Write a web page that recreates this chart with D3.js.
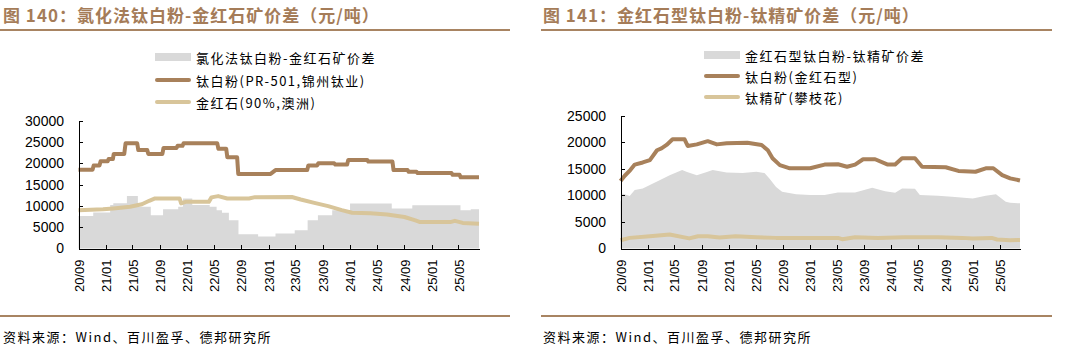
<!DOCTYPE html>
<html lang="zh-CN">
<head>
<meta charset="utf-8">
<title>钛白粉价差</title>
<script src="https://cdn.jsdelivr.net/npm/d3@7"></script>
<style>
  html, body { margin: 0; padding: 0; background: #fff; }
  svg { display: block; }
  .title { font-family: "Noto Sans CJK SC", sans-serif; font-weight: 700; font-size: 17px; fill: #a57c58; letter-spacing: 1px; }
  .legend-text, .source { font-family: "Noto Sans CJK SC", sans-serif; font-size: 13px; fill: #000; letter-spacing: 1.5px; }
  .axis text { font-family: "Liberation Sans", Arial, sans-serif; fill: #000; }
  .axis path, .axis line { stroke: #000; shape-rendering: crispEdges; }
</style>
</head>
<body>
<div id="chart"></div>
<script>
// ---- data (元/吨) ----
const titles = ["图 140：氯化法钛白粉-金红石矿价差（元/吨）", "图 141：金红石型钛白粉-钛精矿价差（元/吨）"];
const leftLegend = ["氯化法钛白粉-金红石矿价差", "钛白粉(PR-501,锦州钛业)", "金红石(90%,澳洲)"];
const rightLegend = ["金红石型钛白粉-钛精矿价差", "钛白粉(金红石型)", "钛精矿(攀枝花)"];
const sourceText = "资料来源：Wind、百川盈孚、德邦研究所";
const leftYTicks = [0, 5000, 10000, 15000, 20000, 25000, 30000];
const rightYTicks = [0, 5000, 10000, 15000, 20000, 25000];

// 氯化法钛白粉-金红石矿价差 (held until next date)
const leftSpread = [
  ["2020-09-01", 7600], ["2020-11-06", 8460], ["2021-01-21", 10200], ["2021-02-04", 10600],
  ["2021-04-06", 12300], ["2021-05-25", 9800], ["2021-07-22", 7800], ["2021-09-15", 9240],
  ["2021-11-22", 9800], ["2021-12-13", 11750], ["2022-01-24", 10200], ["2022-04-12", 9800],
  ["2022-05-13", 9000], ["2022-06-06", 8370], ["2022-07-07", 6650], ["2022-08-19", 3360],
  ["2022-11-15", 2800], ["2023-02-01", 3530], ["2023-04-28", 4300], ["2023-06-25", 6650],
  ["2023-08-10", 7830], ["2023-10-13", 9000], ["2024-01-01", 10580], ["2024-07-06", 9400],
  ["2024-10-06", 10180], ["2025-05-10", 9000], ["2025-06-25", 9200], ["2025-08-01", 9200]
];
// 钛白粉(PR-501,锦州钛业)
const leftTio2 = [
  ["2020-09-01", 18500], ["2020-11-03", 18500], ["2020-11-08", 19500], ["2020-12-04", 19500],
  ["2020-12-09", 20500], ["2021-01-10", 20500], ["2021-01-14", 21000], ["2021-02-02", 21000],
  ["2021-02-06", 22200], ["2021-03-25", 22200], ["2021-03-31", 24700], ["2021-05-22", 24700],
  ["2021-05-27", 23100], ["2021-07-06", 23100], ["2021-07-11", 22200], ["2021-09-12", 22200],
  ["2021-09-17", 23600], ["2021-11-14", 23600], ["2021-11-19", 24100], ["2021-12-11", 24100],
  ["2021-12-16", 24700], ["2022-05-16", 24700], ["2022-05-21", 23400], ["2022-06-25", 23400],
  ["2022-06-30", 21400], ["2022-08-13", 21400], ["2022-08-18", 17500], ["2023-01-10", 17500],
  ["2023-02-01", 18400], ["2023-06-23", 18400], ["2023-06-28", 19500], ["2023-08-07", 19500],
  ["2023-08-12", 20000], ["2023-10-22", 20000], ["2023-10-27", 19700], ["2023-12-19", 19700],
  ["2023-12-24", 20800], ["2024-03-18", 20800], ["2024-03-23", 20400], ["2024-07-09", 20400],
  ["2024-07-14", 18400], ["2024-09-15", 18400], ["2024-09-20", 18000], ["2024-10-25", 18000],
  ["2024-10-30", 17700], ["2025-03-31", 17700], ["2025-04-05", 17300], ["2025-05-06", 17300],
  ["2025-05-11", 16700], ["2025-08-01", 16700]
];
// 金红石(90%,澳洲)
const leftRutile = [
  ["2020-09-01", 9000], ["2020-12-20", 9200], ["2021-02-04", 9400], ["2021-04-20", 9800],
  ["2021-06-12", 10400], ["2021-07-15", 11200], ["2021-08-10", 11750], ["2021-11-28", 11750],
  ["2021-12-05", 10600], ["2021-12-25", 10950], ["2022-04-08", 10950], ["2022-04-20", 12000],
  ["2022-05-20", 12300], ["2022-06-30", 11750], ["2022-10-05", 11750], ["2022-11-01", 12050],
  ["2023-04-15", 12100], ["2023-05-25", 11500], ["2023-07-25", 10700], ["2023-09-25", 9950],
  ["2023-11-25", 9000], ["2024-01-10", 8400], ["2024-04-01", 8300], ["2024-06-15", 8000],
  ["2024-09-01", 7400], ["2024-10-20", 6600], ["2024-11-10", 6200], ["2025-03-25", 6200],
  ["2025-04-15", 6500], ["2025-05-20", 6000], ["2025-08-01", 5800]
];
// 金红石型钛白粉-钛精矿价差
const rightSpread = [
  ["2020-09-01", 8800], ["2020-09-10", 10370], ["2020-10-12", 9900], ["2020-11-04", 11000],
  ["2020-12-10", 11300], ["2021-01-11", 11950], ["2021-02-26", 12900], ["2021-04-10", 13800],
  ["2021-06-05", 14760], ["2021-06-27", 14400], ["2021-08-10", 13800], ["2021-09-24", 14400],
  ["2021-10-20", 14760], ["2021-12-22", 14300], ["2022-03-03", 14200], ["2022-05-05", 14450],
  ["2022-06-10", 14200], ["2022-07-02", 13200], ["2022-08-01", 11600], ["2022-08-28", 10700],
  ["2022-10-30", 10200], ["2023-01-01", 10050], ["2023-03-07", 10050], ["2023-05-06", 10550],
  ["2023-07-22", 10550], ["2023-10-07", 11430], ["2023-12-04", 10800], ["2024-01-18", 10500],
  ["2024-02-18", 11300], ["2024-04-16", 11250], ["2024-05-08", 10050], ["2024-07-28", 9930],
  ["2024-09-29", 9740], ["2025-01-01", 9430], ["2025-02-28", 9930], ["2025-04-15", 10200],
  ["2025-05-29", 8800], ["2025-06-18", 8600], ["2025-08-01", 8500]
];
// 钛白粉(金红石型)
const rightTio2 = [
  ["2020-09-01", 12700], ["2020-09-20", 13700], ["2020-10-15", 14760], ["2020-11-04", 15800],
  ["2020-12-10", 16200], ["2021-01-11", 16650], ["2021-02-12", 18500], ["2021-03-04", 18850],
  ["2021-03-27", 19500], ["2021-04-23", 20550], ["2021-06-16", 20550], ["2021-06-30", 19300],
  ["2021-08-10", 19600], ["2021-09-28", 20200], ["2021-11-08", 19600], ["2021-12-22", 19800],
  ["2022-03-25", 19900], ["2022-05-28", 19500], ["2022-06-25", 18500], ["2022-07-16", 17000],
  ["2022-08-18", 15700], ["2022-10-02", 15100], ["2023-01-01", 15100], ["2023-03-07", 15800],
  ["2023-05-06", 15850], ["2023-06-16", 15400], ["2023-07-22", 15800], ["2023-08-27", 16800],
  ["2023-10-20", 16800], ["2023-12-16", 15800], ["2024-01-18", 15800], ["2024-02-18", 16970],
  ["2024-04-16", 17000], ["2024-05-18", 15400], ["2024-09-01", 15300], ["2024-10-28", 14600],
  ["2025-01-13", 14450], ["2025-02-28", 15100], ["2025-04-03", 15100], ["2025-05-13", 13800],
  ["2025-06-18", 13200], ["2025-08-01", 12800]
];
// 钛精矿(攀枝花)
const rightIlmenite = [
  ["2020-09-01", 1560], ["2020-10-12", 2000], ["2021-01-11", 2300], ["2021-04-10", 2640],
  ["2021-07-07", 1900], ["2021-08-15", 2300], ["2021-09-28", 2300], ["2021-11-20", 2070],
  ["2022-02-01", 2300], ["2022-05-05", 2130], ["2022-08-01", 2000], ["2023-05-06", 2000],
  ["2023-05-25", 1750], ["2023-07-22", 2130], ["2023-11-01", 2000], ["2024-03-01", 2130],
  ["2024-07-28", 2130], ["2024-11-15", 2000], ["2025-01-01", 1900], ["2025-03-27", 2000],
  ["2025-04-20", 1700], ["2025-06-18", 1560], ["2025-08-01", 1600]
];

// ---- layout / style ----
const ChartApp = (() => {
  const config = {
    width: 1077,
    height: 361,
    colors: { spread: "#d9d9d9", tio2: "#a8815b", ore: "#d8c59a", rule: "#a88462" },
    startDate: "2020-09-01",
    endDate: "2025-08-01",
    lineWidth: 4
  };

  const parseDate = d3.timeParse("%Y-%m-%d");

  const panels = [
    {
      title: titles[0], legend: leftLegend, yTicks: leftYTicks, yMax: 30000,
      spread: leftSpread, tio2: leftTio2, ore: leftRutile, spreadCurve: d3.curveStepAfter,
      frameX: [0, 510], textX: 3, legendX: 155, legendY: [57, 80, 102],
      plot: { left: 78.5, right: 479, top: 120.7, bottom: 248.5 }
    },
    {
      title: titles[1], legend: rightLegend, yTicks: rightYTicks, yMax: 25000,
      spread: rightSpread, tio2: rightTio2, ore: rightIlmenite, spreadCurve: d3.curveLinear,
      frameX: [541, 1052], textX: 543, legendX: 704, legendY: [55, 76, 97],
      plot: { left: 620.5, right: 1020, top: 115.7, bottom: 248.5 }
    }
  ];

  function init() {
    const svg = d3.select("#chart").append("svg")
      .attr("width", config.width)
      .attr("height", config.height);

    svg.append("rect").attr("width", config.width).attr("height", config.height).attr("fill", "#fff");

    panels.forEach(p => drawPanel(svg, p));
  }

  function drawPanel(svg, p) {
    const g = svg.append("g");

    // title + rules
    g.append("text").attr("class", "title")
      .attr("x", p.textX).attr("y", 14).attr("dominant-baseline", "central")
      .text(p.title);
    [30, 316].forEach(y => {
      g.append("line")
        .attr("x1", p.frameX[0]).attr("x2", p.frameX[1])
        .attr("y1", y).attr("y2", y)
        .attr("stroke", config.colors.rule).attr("stroke-width", 2);
    });
    g.append("text").attr("class", "source")
      .attr("x", p.textX).attr("y", 336).attr("dominant-baseline", "central")
      .text(sourceText);

    // scales
    const x = d3.scaleTime()
      .domain([parseDate(config.startDate), parseDate(config.endDate)])
      .range([p.plot.left, p.plot.right]);
    const y = d3.scaleLinear()
      .domain([0, p.yMax])
      .range([p.plot.bottom, p.plot.top]);

    const pts = arr => arr.map(d => ({ date: parseDate(d[0]), value: d[1] }));

    // gray spread area
    const area = d3.area()
      .curve(p.spreadCurve)
      .x(d => x(d.date)).y0(y(0)).y1(d => y(d.value));
    g.append("path").datum(pts(p.spread))
      .attr("fill", config.colors.spread).attr("d", area);

    // price lines
    const line = d3.line().x(d => x(d.date)).y(d => y(d.value));
    [[p.ore, config.colors.ore], [p.tio2, config.colors.tio2]].forEach(([data, color]) => {
      g.append("path").datum(pts(data))
        .attr("fill", "none").attr("stroke", color)
        .attr("stroke-width", config.lineWidth)
        .attr("stroke-linejoin", "round").attr("stroke-linecap", "butt")
        .attr("d", line);
    });

    // axes
    const xAxis = d3.axisBottom(x)
      .ticks(d3.timeMonth.every(4))
      .tickFormat(d3.timeFormat("%y/%m"))
      .tickSizeInner(-4).tickSizeOuter(0);
    g.append("g").attr("class", "axis")
      .attr("transform", `translate(0,${p.plot.bottom})`)
      .call(xAxis)
      .call(a => a.selectAll("text")
        .attr("transform", "rotate(-90)")
        .attr("x", -11).attr("y", 0).attr("dy", "0.35em")
        .style("text-anchor", "end").style("font-size", "13px"));

    const yAxis = d3.axisLeft(y)
      .tickValues(p.yTicks)
      .tickFormat(d3.format("d"))
      .tickSizeInner(-4).tickSizeOuter(0).tickPadding(14.5);
    g.append("g").attr("class", "axis")
      .attr("transform", `translate(${p.plot.left},0)`)
      .call(yAxis)
      .call(a => a.selectAll("text").style("font-size", "14px"));

    // legend
    const lx = p.legendX, lw = 36;
    g.append("rect")
      .attr("x", lx).attr("y", p.legendY[0] - 4).attr("width", lw).attr("height", 8)
      .attr("fill", config.colors.spread);
    [config.colors.tio2, config.colors.ore].forEach((c, i) => {
      g.append("line")
        .attr("x1", lx + 2).attr("x2", lx + lw - 2)
        .attr("y1", p.legendY[i + 1]).attr("y2", p.legendY[i + 1])
        .attr("stroke", c).attr("stroke-width", 4).attr("stroke-linecap", "round");
    });
    p.legend.forEach((t, i) => {
      g.append("text").attr("class", "legend-text")
        .attr("x", lx + lw + 5).attr("y", p.legendY[i])
        .attr("dominant-baseline", "central")
        .text(t);
    });
  }

  return { init };
})();

document.addEventListener("DOMContentLoaded", ChartApp.init);
</script>
</body>
</html>
